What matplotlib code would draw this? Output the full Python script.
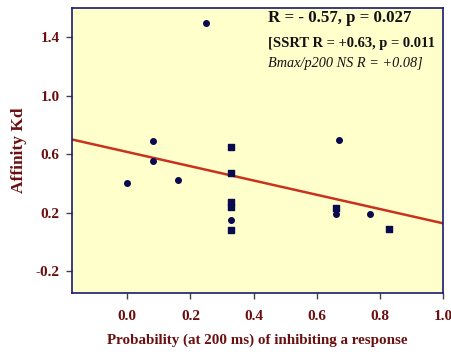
import matplotlib
matplotlib.use("Agg")
import matplotlib.pyplot as plt
import numpy as np

# data
circle_x = [0.0, 0.08, 0.08, 0.16, 0.25, 0.33, 0.66, 0.67, 0.77]
circle_y = [0.40, 0.69, 0.55, 0.42, 1.50, 0.15, 0.19, 0.70, 0.19]
square_x = [0.33, 0.33, 0.33, 0.33, 0.33, 0.66, 0.83]
square_y = [0.65, 0.47, 0.27, 0.24, 0.08, 0.23, 0.09]
fit_intercept = 0.615
fit_slope = -0.488
x_ticks = [0.0, 0.2, 0.4, 0.6, 0.8, 1.0]
y_ticks = [-0.2, 0.2, 0.6, 1.0, 1.4]

label_color = "#6a1010"
navy = "#1a1a6e"

fig = plt.figure(figsize=(4.52, 3.58), dpi=100)
ax = fig.add_axes([72/452, 1 - 293/358, (443-72)/452, (293-8)/358])
ax.set_facecolor("#ffffcc")

xl = np.array([-0.175, 1.0])
ax.plot(xl, fit_intercept + fit_slope * xl, color="#c8321e", lw=1.8, zorder=2)
ax.scatter(circle_x, circle_y, marker="o", s=16, color="#0a0a50", zorder=3)
ax.scatter(square_x, square_y, marker="s", s=14, color="#0a0a50", zorder=3)

ax.set_xlim(-0.175, 1.0)
ax.set_ylim(-0.35, 1.6)
ax.set_xticks(x_ticks)
ax.set_yticks(y_ticks)
ax.set_xticklabels([f"{v:.1f}" for v in x_ticks])
ax.set_yticklabels([f"{v:.1f}" for v in y_ticks])
for s in ax.spines.values():
    s.set_color(navy)
    s.set_linewidth(1.2)
ax.tick_params(direction="out", length=4, width=1, color="#444444",
               labelsize=11, labelcolor=label_color)
ax.tick_params(axis="x", pad=8)
ax.tick_params(axis="y", pad=5)
for lab in ax.get_xticklabels() + ax.get_yticklabels():
    lab.set_fontfamily("Liberation Serif")
    lab.set_fontweight("bold")

ax.set_xlabel("Probability (at 200 ms) of inhibiting a response",
              family="Liberation Serif", fontweight="bold", fontsize=10.8,
              color=label_color, labelpad=8)
ax.set_ylabel("Affinity Kd", family="Liberation Serif", fontweight="bold",
              fontsize=12.5, color=label_color, labelpad=6)

fig.text(268/452, 1 - 18/358, "R = - 0.57, p = 0.027", family="Liberation Serif",
         fontweight="bold", fontsize=12.2, color="#111111", va="center", ha="left")
fig.text(268/452, 1 - 44/358, "[SSRT R = +0.63, p = 0.011", family="Liberation Serif",
         fontweight="bold", fontsize=10.5, color="#111111", va="center", ha="left")
fig.text(268/452, 1 - 63/358, "Bmax/p200 NS R = +0.08]", family="Liberation Serif",
         style="italic", fontsize=10.3, color="#111111", va="center", ha="left")

fig.savefig("out.png", dpi=100, facecolor="white")
